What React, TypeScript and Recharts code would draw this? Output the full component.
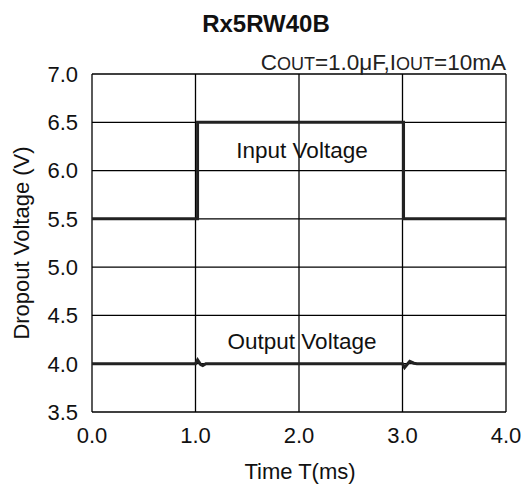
import React from "react";
import {
  LineChart,
  Line,
  XAxis,
  YAxis,
  CartesianGrid,
  Customized,
} from "recharts";

const xTicks = [0, 1, 2, 3, 4];
const yTicks = [3.5, 4.0, 4.5, 5.0, 5.5, 6.0, 6.5, 7.0];

const inputTime = [0, 1.02, 1.02, 3.01, 3.01, 4];
const inputVolt = [5.5, 5.5, 6.5, 6.5, 5.5, 5.5];

const outputTime = [0, 1.0, 1.02, 1.05, 1.07, 1.1, 3.0, 3.02, 3.05, 3.07, 3.11, 3.14, 4];
const outputVolt = [4.0, 4.0, 4.04, 3.99, 3.98, 4.0, 4.0, 3.96, 4.0, 4.025, 4.005, 4.0, 4.0];

const inputData = inputTime.map((t, i) => ({ t, v: inputVolt[i] }));
const outputData = outputTime.map((t, i) => ({ t, v: outputVolt[i] }));

const FONT = "'Liberation Sans', Arial, sans-serif";

const Overlay = () => (
  <g fontFamily={FONT} fill="#111">
    <text x={266} y={32} textAnchor="middle" fontSize={24} fontWeight="bold">
      Rx5RW40B
    </text>
    <text x={506} y={70} textAnchor="end" fontSize={22.5} fill="#222">
      <tspan>C</tspan>
      <tspan fontSize={18}>OUT</tspan>
      <tspan>=1.0μF,I</tspan>
      <tspan fontSize={18}>OUT</tspan>
      <tspan>=10mA</tspan>
    </text>
    <text x={302} y={158} textAnchor="middle" fontSize={22.5}>
      Input Voltage
    </text>
    <text x={302} y={349} textAnchor="middle" fontSize={22.5}>
      Output Voltage
    </text>
    <text x={300} y={479} textAnchor="middle" fontSize={22}>
      Time T(ms)
    </text>
    <text
      x={29}
      y={243}
      textAnchor="middle"
      fontSize={22}
      transform="rotate(-90 29 243)"
    >
      Dropout Voltage (V)
    </text>
  </g>
);

export default function App() {
  return (
    <div style={{ position: "absolute", left: 0, top: 0, width: 525, height: 484, background: "#fff" }}>
      <LineChart
        width={525}
        height={484}
        margin={{ top: 74, right: 19, bottom: 0, left: 0 }}
      >
        <CartesianGrid
          stroke="#000"
          strokeWidth={1.3}
          horizontalValues={yTicks}
          verticalValues={xTicks}
        />
        <XAxis
          dataKey="t"
          type="number"
          domain={[0, 4]}
          ticks={xTicks}
          tickFormatter={(v: number) => v.toFixed(1)}
          height={72}
          axisLine={false}
          tickLine={false}
          tickSize={0}
          tickMargin={15}
          tick={{ fontSize: 22, fill: "#111", fontFamily: FONT }}
          interval={0}
          allowDuplicatedCategory={false}
        />
        <YAxis
          type="number"
          domain={[3.5, 7.0]}
          ticks={yTicks}
          tickFormatter={(v: number) => v.toFixed(1)}
          width={92}
          axisLine={false}
          tickLine={false}
          tickSize={0}
          tickMargin={14}
          tick={{ fontSize: 22, fill: "#111", fontFamily: FONT }}
          interval={0}
        />
        <Line
          data={inputData}
          dataKey="v"
          type="linear"
          stroke="#222"
          strokeWidth={3}
          dot={false}
          isAnimationActive={false}
        />
        <Line
          data={outputData}
          dataKey="v"
          type="linear"
          stroke="#222"
          strokeWidth={3}
          dot={false}
          isAnimationActive={false}
        />
        <Customized component={Overlay} />
      </LineChart>
    </div>
  );
}
